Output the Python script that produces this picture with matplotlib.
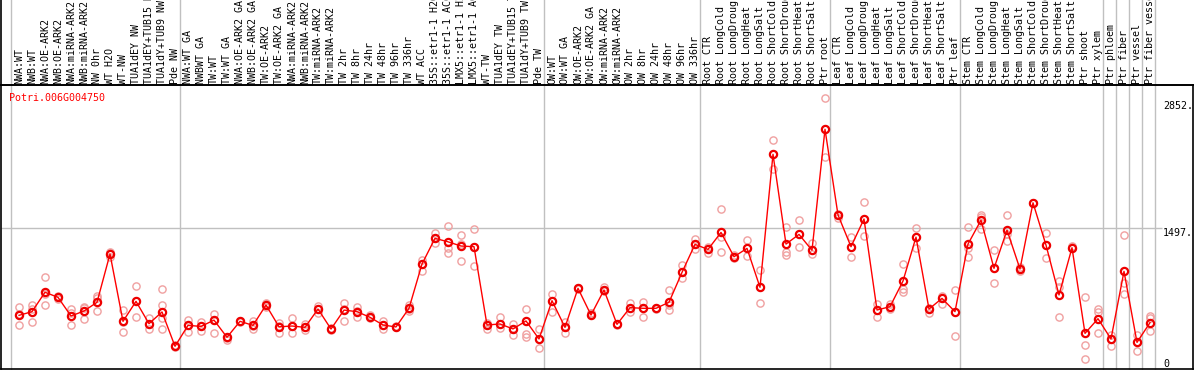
import numpy as np
import matplotlib
matplotlib.use("Agg")
import matplotlib.pyplot as plt
from matplotlib.lines import Line2D

gene = "Potri.006G004750"

samples = [
    "NWA:WT", "NWB:WT", "NWA:OE-ARK2", "NWB:OE-ARK2", "NWA:miRNA-ARK2", "NWB:miRNA-ARK2",
    "NW 0hr", "WT H2O", "WT-NW", "TUA1dEY NW", "TUA1dEY+TUB15 NW", "TUA1dY+TUB9 NW", "Pde NW",
    "NWA:WT GA", "NWBWT GA", "TW:WT", "TW:WT GA", "NWA:OE-ARK2 GA", "NWB:OE-ARK2 GA",
    "TW:OE-ARK2", "TW:OE-ARK2 GA", "NWA:miRNA-ARK2", "NWB:miRNA-ARK2", "TW:miRNA-ARK2",
    "TW:miRNA-ARK2", "TW 2hr", "TW 8hr", "TW 24hr", "TW 48hr", "TW 96hr", "TW 336hr",
    "WT ACC", "35S::etr1-1 H2O", "35S::etr1-1 ACC", "LMX5::etr1-1 H2O", "LMX5::etr1-1 ACC",
    "WT-TW", "TUA1dEY TW", "TUA1dEY+TUB15 TW", "TUA1dY+TUB9 TW", "Pde TW",
    "OW:WT", "OW:WT GA", "OW:OE-ARK2", "OW:OE-ARK2 GA", "OW:miRNA-ARK2", "OW:miRNA-ARK2",
    "OW 2hr", "OW 8hr", "OW 24hr", "OW 48hr", "OW 96hr", "OW 336hr",
    "Root CTR", "Root LongCold", "Root LongDrought", "Root LongHeat", "Root LongSalt",
    "Root ShortCold", "Root ShortDrought", "Root ShortHeat", "Root ShortSalt", "Ptr root",
    "Leaf CTR", "Leaf LongCold", "Leaf LongDrought", "Leaf LongHeat", "Leaf LongSalt",
    "Leaf ShortCold", "Leaf ShortDrought", "Leaf ShortHeat", "Leaf ShortSalt", "Ptr leaf",
    "Stem CTR", "Stem LongCold", "Stem LongDrought", "Stem LongHeat", "Stem LongSalt",
    "Stem ShortCold", "Stem ShortDrought", "Stem ShortHeat", "Stem ShortSalt", "Ptr shoot",
    "Ptr xylem", "Ptr phloem", "Ptr fiber", "Ptr vessel", "Ptr fiber vessel",
]

means = [
    569, 608, 815, 761, 562, 615, 708, 1223, 505, 718, 480, 605, 239,
    462, 451, 518, 335, 505, 462, 679, 447, 455, 441, 636, 423, 625, 608, 548, 466,
    445, 644, 1116, 1390, 1353, 1308, 1301, 466, 477, 424, 509, 317,
    725, 441, 857, 572, 839, 473, 651, 644, 644, 708, 1027, 1326,
    1272, 1453, 1194, 1283, 868, 2286, 1329, 1432, 1263, 2553,
    1640, 1301, 1596, 626, 661, 935, 1403, 636, 750, 608,
    1329, 1584, 1070, 1478, 1063, 1769, 1318, 786, 1290, 377, 533,
    317, 1038, 281, 491,
]

replicates = [
    [654, 462, 585], [679, 495, 640], [975, 676, 800], [775, 745, 765],
    [636, 462, 590], [658, 533, 650], [779, 750, 612], [1190, 1240, 1230],
    [625, 395, 500], [879, 548, 725], [543, 424, 475], [846, 679, 537, 424],
    [230, 250, 240], [518, 395, 470], [501, 405, 450], [583, 377, 520],
    [310, 330, 340], [505, 500, 510], [512, 420, 460], [700, 690, 660],
    [491, 384, 450], [537, 377, 460], [480, 410, 440], [667, 590, 640],
    [410, 430, 425], [697, 509, 640], [661, 554, 610], [570, 540, 550],
    [512, 427, 466], [440, 450, 445], [680, 640, 620], [1159, 1045, 1116],
    [1444, 1345, 1390], [1522, 1284, 1238], [1426, 1152, 1330], [1486, 1096, 1300],
    [490, 427, 466], [548, 430, 477], [477, 359, 424], [636, 369, 340],
    [424, 221, 317], [796, 602, 725], [501, 377, 441], [860, 850, 857],
    [590, 597, 572], [875, 839, 830], [465, 480, 473], [697, 608, 651],
    [715, 554, 644], [640, 650, 644], [839, 626, 680], [1105, 964, 1027],
    [1380, 1272, 1326], [1230, 1300, 1272], [1701, 1401, 1247], [1210, 1194, 1180],
    [1374, 1204, 1283], [1052, 697, 868], [2438, 2129, 2286], [1513, 1247, 1215],
    [1584, 1294, 1432], [1336, 1219, 1263], [2883, 2255, 2553], [1605, 1640, 1650],
    [1401, 1187, 1301], [1777, 1415, 1596], [686, 554, 626], [690, 661, 640],
    [1120, 846, 815], [1497, 1283, 1403], [590, 650, 636], [780, 686, 750],
    [839, 346, 608], [1513, 1194, 1283], [1640, 1488, 1620], [1265, 917, 1070],
    [1637, 1362, 1440], [1080, 1040, 1063], [1765, 1769, 1770], [1444, 1176, 1318],
    [937, 875, 548], [1310, 1300, 1290], [761, 256, 107], [640, 608, 377],
    [360, 242, 320], [1426, 910, 800], [363, 188, 281], [563, 537, 398],
]

# index of the first sample in each block (vertical separators)
group_starts = [0, 13, 41, 53, 63, 73, 84, 85, 86, 87, 88]
ytick_vals = [2852, 1497, 0]

W, H = 1194, 370
x0, step = 19, 13.0  # pixel position of first sample, spacing

fig = plt.figure(figsize=(W / 100, H / 100), dpi=100)
ax_bot, ax_top = 1.3, 85
ax = fig.add_axes([1 / W, ax_bot / H, 1192 / W, (H - ax_top - ax_bot) / H])
ax.set_xlim((1 - x0) / step, (1193 - x0) / step)
ax.set_ylim(0, 3025)
ax.set_xticks([])
ax.set_yticks([])
for s in ax.spines.values():
    s.set_color("black")
    s.set_linewidth(1.2)

mono = "DejaVu Sans Mono"
grid_c = "#c0c0c0"
ax_h = H - ax_top - ax_bot
ymax_fig = (H - ax_bot) / ax_h

for g in group_starts:
    ax.axvline(g - 0.65, ymin=0, ymax=ymax_fig, color=grid_c, lw=1, clip_on=False, zorder=0)
ax.hlines(1497, (1 - x0) / step, 87.9, color=grid_c, lw=1, zorder=0)

xs = np.arange(len(samples))
for i, reps in enumerate(replicates):
    ax.plot([i] * len(reps), reps, "o", ms=5.2, mfc="none", mec="#f0a0a0", mew=1.0, zorder=2)
ax.plot(xs, means, "-", color="#ff0000", lw=1.0, zorder=3)
ax.plot(xs, means, "o", ms=5.2, mfc="none", mec="#ee0000", mew=1.6, zorder=4)

for v in ytick_vals:
    ax.text(88.0, v, f"{v}." if v else "0", fontsize=7.2, family=mono,
            ha="left", va="top" if v else "bottom", color="black")

fig.text(9.3 / W, 1 - 93 / H, gene, fontsize=7.2, family=mono, color="red",
         ha="left", va="top")

for i, lab in enumerate(samples):
    fig.text((x0 + step * i) / W, 1 - 83.5 / H, lab, rotation=90, fontsize=7.2,
             family=mono, ha="center", va="bottom", color="black")

# frame line above the labels area and on the far left
fig.add_artist(Line2D([0, 1], [1 - ax_top / H] * 2, color="black", lw=1.2))
fig.add_artist(Line2D([1 / W] * 2, [1 - ax_top / H, 1], color="black", lw=1.2))

fig.savefig("out.png", dpi=100)
